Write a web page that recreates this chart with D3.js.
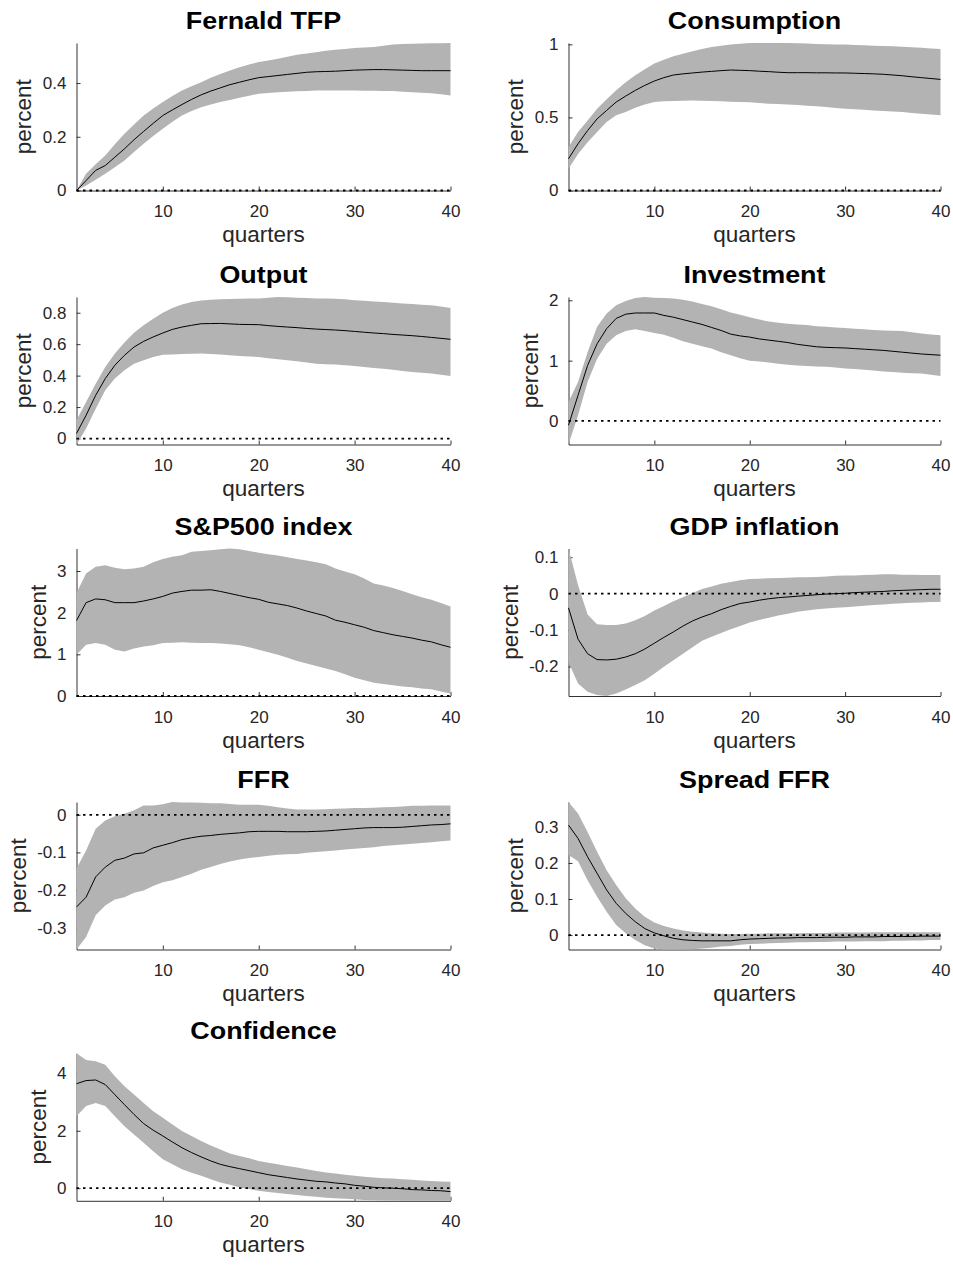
<!DOCTYPE html>
<html lang="en">
<head>
<meta charset="UTF-8">
<title>Impulse responses</title>
<script src="https://cdnjs.cloudflare.com/ajax/libs/d3/7.8.5/d3.min.js"></script>
<style>
  body { margin: 0; background: #fff; }
  svg { display: block; font-family: "Liberation Sans", Arial, sans-serif; }
  .axis path, .axis line { stroke: #333; stroke-width: 1; fill: none; }
  .axis text { fill: #262626; font-size: 17px; font-family: "Liberation Sans", Arial, sans-serif; }
  .title { font-size: 23px; font-weight: bold; fill: #000; }
  .label { font-size: 22.5px; fill: #262626; }
</style>
</head>
<body>
<div id="chart"></div>
<script>
// horizon 1..40 quarters
var quarters = [1,2,3,4,5,6,7,8,9,10,11,12,13,14,15,16,17,18,19,20,
                21,22,23,24,25,26,27,28,29,30,31,32,33,34,35,36,37,38,39,40];
var xTicks = [10, 20, 30, 40];

// Fernald TFP
var tfpMed = [0,.037,.075,.093,.124,.155,.189,.22,.25,.279,.30,.32,.339,.356,.37,.382,.394,.403,.412,.42,.424,.428,.432,.436,.44,.442,.443,.444,.446,.448,.449,.45,.45,.449,.448,.447,.446,.446,.446,.446];
var tfpUp  = [0,.062,.098,.13,.172,.211,.246,.279,.305,.329,.352,.372,.388,.403,.42,.434,.447,.459,.469,.478,.484,.49,.498,.505,.51,.515,.52,.524,.527,.53,.532,.534,.539,.543,.545,.546,.547,.548,.548,.549];
var tfpLo  = [0,.019,.04,.062,.087,.112,.143,.174,.203,.23,.256,.279,.296,.31,.32,.329,.337,.345,.353,.36,.363,.366,.368,.369,.37,.372,.372,.372,.372,.372,.371,.371,.37,.37,.368,.366,.364,.362,.358,.354];
var tfpTicks = [0, 0.2, 0.4];

// Consumption
var consMed = [.217,.32,.41,.49,.548,.605,.646,.685,.719,.749,.772,.79,.798,.804,.81,.815,.82,.824,.822,.82,.816,.813,.809,.806,.806,.806,.805,.805,.804,.804,.802,.8,.798,.795,.79,.785,.778,.772,.766,.76];
var consUp  = [.297,.4,.479,.559,.625,.685,.74,.788,.83,.868,.895,.918,.936,.952,.968,.982,.99,.998,1.004,1.009,1.009,1.009,1.009,1.009,1.007,1.005,1.003,1.001,.999,.998,.996,.994,.991,.989,.986,.983,.98,.977,.972,.968];
var consLo  = [.148,.25,.33,.4,.468,.514,.537,.566,.589,.605,.61,.612,.614,.616,.614,.612,.61,.607,.605,.603,.598,.594,.592,.589,.585,.58,.576,.571,.565,.559,.556,.553,.548,.543,.54,.537,.531,.525,.52,.514];
var consTicks = [0, 0.5, 1];

// Output
var outMed = [.032,.148,.275,.381,.466,.529,.582,.618,.646,.671,.694,.709,.72,.73,.731,.732,.729,.726,.725,.724,.718,.713,.709,.705,.7,.696,.693,.69,.686,.681,.676,.671,.667,.662,.658,.654,.649,.643,.637,.631];
var outUp  = [.116,.233,.349,.455,.54,.61,.673,.72,.762,.8,.83,.853,.868,.878,.882,.885,.887,.889,.89,.891,.896,.9,.898,.895,.893,.891,.89,.889,.885,.88,.876,.872,.868,.863,.859,.855,.851,.847,.84,.83];
var outLo  = [-.038,.063,.19,.307,.381,.434,.476,.497,.519,.533,.535,.538,.539,.54,.538,.535,.53,.525,.522,.519,.511,.504,.498,.491,.483,.476,.473,.47,.466,.461,.455,.449,.444,.438,.43,.423,.418,.413,.406,.398];
var outTicks = [0, 0.2, 0.4, 0.6, 0.8];

// Investment
var invMed = [-.07,.425,.92,1.28,1.53,1.70,1.77,1.79,1.79,1.79,1.75,1.72,1.68,1.64,1.6,1.55,1.5,1.44,1.41,1.39,1.36,1.34,1.32,1.30,1.27,1.25,1.23,1.22,1.215,1.21,1.2,1.19,1.18,1.17,1.155,1.14,1.125,1.11,1.1,1.09];
var invUp  = [.315,.646,1.14,1.56,1.78,1.92,1.99,2.04,2.055,2.044,2.04,2.03,2.01,1.98,1.94,1.9,1.85,1.8,1.76,1.72,1.68,1.65,1.63,1.61,1.6,1.59,1.57,1.56,1.55,1.54,1.53,1.52,1.51,1.5,1.495,1.49,1.47,1.45,1.435,1.42];
var invLo  = [-.39,.094,.646,1.03,1.28,1.42,1.49,1.52,1.49,1.46,1.43,1.38,1.32,1.28,1.24,1.2,1.14,1.09,1.04,1.0,.985,.97,.95,.93,.92,.91,.905,.9,.885,.87,.86,.85,.835,.82,.81,.8,.79,.785,.765,.746];
var invTicks = [0, 1, 2];

// S&P500 index
var spMed = [1.81,2.24,2.33,2.31,2.24,2.24,2.24,2.28,2.33,2.39,2.47,2.51,2.54,2.54,2.55,2.51,2.46,2.41,2.36,2.32,2.25,2.21,2.17,2.11,2.04,1.98,1.92,1.82,1.77,1.71,1.65,1.57,1.52,1.47,1.43,1.39,1.34,1.3,1.23,1.17];
var spUp  = [2.47,2.94,3.1,3.14,3.08,3.04,3.06,3.1,3.21,3.29,3.34,3.38,3.46,3.48,3.5,3.52,3.54,3.52,3.48,3.44,3.4,3.37,3.33,3.29,3.25,3.21,3.16,3.06,2.99,2.92,2.82,2.7,2.65,2.59,2.52,2.44,2.37,2.31,2.23,2.15];
var spLo  = [.99,1.23,1.27,1.23,1.11,1.07,1.14,1.19,1.22,1.27,1.28,1.29,1.28,1.27,1.27,1.26,1.24,1.22,1.17,1.11,1.05,.99,.92,.84,.78,.72,.66,.6,.52,.44,.38,.32,.29,.26,.23,.21,.18,.16,.11,.06];
var spTicks = [0, 1, 2, 3];

// GDP inflation
var gdpMed = [-.039,-.125,-.165,-.181,-.182,-.18,-.174,-.165,-.152,-.136,-.12,-.105,-.089,-.075,-.064,-.055,-.044,-.035,-.027,-.023,-.018,-.014,-.011,-.009,-.007,-.005,-.003,-.001,0,.001,.003,.004,.005,.006,.008,.009,.01,.011,.012,.012];
var gdpUp  = [.124,.024,-.057,-.084,-.086,-.086,-.082,-.073,-.061,-.046,-.034,-.021,-.01,.002,.013,.02,.027,.032,.037,.04,.041,.042,.043,.044,.045,.045,.046,.047,.049,.05,.05,.051,.052,.053,.053,.052,.052,.051,.051,.051];
var gdpLo  = [-.188,-.247,-.269,-.278,-.281,-.274,-.263,-.251,-.238,-.22,-.201,-.183,-.165,-.147,-.129,-.118,-.108,-.098,-.089,-.079,-.072,-.066,-.06,-.055,-.05,-.046,-.043,-.041,-.039,-.037,-.035,-.033,-.031,-.03,-.028,-.026,-.025,-.024,-.023,-.023];
var gdpTicks = [-0.2, -0.1, 0, 0.1];

// FFR
var ffrMed = [-.245,-.219,-.165,-.139,-.121,-.115,-.104,-.101,-.088,-.081,-.074,-.066,-.061,-.057,-.055,-.052,-.05,-.048,-.045,-.044,-.044,-.044,-.045,-.045,-.045,-.044,-.043,-.041,-.039,-.037,-.035,-.034,-.034,-.034,-.033,-.031,-.029,-.027,-.026,-.024];
var ffrUp  = [-.143,-.095,-.037,-.015,-.004,.003,.012,.025,.025,.028,.034,.033,.033,.032,.031,.031,.029,.027,.027,.027,.024,.02,.017,.014,.014,.014,.015,.016,.017,.018,.018,.019,.02,.021,.022,.024,.024,.025,.025,.025];
var ffrLo  = [-.358,-.325,-.267,-.241,-.225,-.219,-.207,-.201,-.189,-.179,-.174,-.165,-.157,-.146,-.139,-.131,-.124,-.119,-.115,-.112,-.109,-.106,-.105,-.104,-.101,-.099,-.097,-.095,-.092,-.09,-.088,-.086,-.083,-.081,-.079,-.077,-.075,-.073,-.07,-.068];
var ffrTicks = [-0.3, -0.2, -0.1, 0];

// Spread FFR
var sprMed = [.305,.268,.217,.171,.125,.088,.06,.037,.018,.006,-.002,-.009,-.013,-.015,-.016,-.016,-.016,-.016,-.013,-.011,-.01,-.009,-.008,-.008,-.007,-.007,-.007,-.006,-.006,-.006,-.005,-.005,-.005,-.004,-.004,-.004,-.004,-.003,-.003,-.003];
var sprUp  = [.369,.337,.286,.231,.18,.139,.102,.074,.051,.035,.025,.018,.013,.009,.007,.005,.004,.003,.003,.004,.004,.005,.005,.005,.005,.006,.006,.006,.007,.007,.007,.007,.008,.008,.008,.008,.008,.008,.008,.008];
var sprLo  = [.222,.205,.152,.106,.065,.028,.005,-.014,-.028,-.037,-.04,-.04,-.04,-.039,-.037,-.035,-.032,-.03,-.027,-.025,-.024,-.023,-.022,-.021,-.02,-.02,-.019,-.019,-.018,-.018,-.018,-.017,-.017,-.017,-.016,-.016,-.015,-.015,-.014,-.014];
var sprTicks = [0, 0.1, 0.2, 0.3];

// Confidence
var confMed = [3.64,3.75,3.77,3.61,3.26,2.91,2.57,2.25,2.02,1.82,1.61,1.41,1.24,1.09,.95,.83,.75,.68,.61,.54,.47,.42,.37,.32,.28,.24,.22,.18,.15,.1,.07,.03,.01,0,-.02,-.05,-.06,-.08,-.09,-.12];
var confUp  = [4.7,4.47,4.42,4.3,3.9,3.55,3.26,2.97,2.68,2.45,2.22,1.99,1.82,1.64,1.49,1.35,1.21,1.12,1.04,.95,.89,.83,.77,.72,.66,.6,.55,.51,.47,.43,.4,.37,.35,.34,.31,.29,.27,.25,.23,.22];
var confLo  = [2.51,2.86,2.97,2.86,2.51,2.16,1.87,1.58,1.29,1.01,.83,.66,.54,.43,.31,.2,.12,.02,-.03,-.09,-.13,-.17,-.2,-.24,-.27,-.3,-.33,-.35,-.37,-.39,-.41,-.42,-.43,-.43,-.44,-.44,-.44,-.44,-.44,-.44];
var confTicks = [0, 2, 4];

var panels = [
  { title: "Fernald TFP",   med: tfpMed,  up: tfpUp,  lo: tfpLo,  ticks: tfpTicks },
  { title: "Consumption",   med: consMed, up: consUp, lo: consLo, ticks: consTicks },
  { title: "Output",        med: outMed,  up: outUp,  lo: outLo,  ticks: outTicks },
  { title: "Investment",    med: invMed,  up: invUp,  lo: invLo,  ticks: invTicks },
  { title: "S&P500 index",  med: spMed,   up: spUp,   lo: spLo,   ticks: spTicks },
  { title: "GDP inflation", med: gdpMed,  up: gdpUp,  lo: gdpLo,  ticks: gdpTicks },
  { title: "FFR",           med: ffrMed,  up: ffrUp,  lo: ffrLo,  ticks: ffrTicks },
  { title: "Spread FFR",    med: sprMed,  up: sprUp,  lo: sprLo,  ticks: sprTicks },
  { title: "Confidence",    med: confMed, up: confUp, lo: confLo, ticks: confTicks }
];

var W = 953, H = 1266;
var colX = [76.5, 568.5], colW = [374, 372];
var rowY = [43, 297, 548.5, 802, 1053.3], plotH = 147.5;

var svg = d3.select("#chart").append("svg")
    .attr("width", W)
    .attr("height", H);

panels.forEach(function (p, i) {
  var col = i % 2, row = Math.floor(i / 2);
  var w = colW[col], h = plotH;
  var g = svg.append("g")
      .attr("transform", "translate(" + colX[col] + "," + rowY[row] + ")");

  var x = d3.scaleLinear().domain([1, 40]).range([0, w]);
  var y = d3.scaleLinear()
      .domain(d3.extent(p.lo.concat(p.up, [0])))
      .range([h, 0]);

  // axes first, the band is painted over them (matlab layer "bottom")
  g.append("g").attr("class", "axis")
      .attr("transform", "translate(0," + h + ")")
      .call(d3.axisBottom(x).tickValues(xTicks).tickSizeInner(-4).tickSizeOuter(0)
        .tickPadding(14.5).tickFormat(function (d) { return String(d); }));
  var ya = g.append("g").attr("class", "axis")
      .call(d3.axisLeft(y).tickValues(p.ticks).tickSizeInner(-4).tickSizeOuter(0)
        .tickPadding(10).tickFormat(function (d) { return String(d); }));

  // band
  g.append("path")
      .datum(quarters)
      .attr("fill", "#b3b3b3")
      .attr("stroke", "none")
      .attr("d", d3.area()
        .x(function (q) { return x(q); })
        .y0(function (q, k) { return y(p.lo[k]); })
        .y1(function (q, k) { return y(p.up[k]); }));

  // zero line
  g.append("path")
      .datum([1, 40])
      .attr("fill", "none")
      .attr("stroke", "#000")
      .attr("stroke-width", 1.8)
      .attr("stroke-dasharray", "2.5,4")
      .attr("d", d3.line().x(function (q) { return x(q); }).y(function () { return y(0); }));

  // median
  g.append("path")
      .datum(quarters)
      .attr("fill", "none")
      .attr("stroke", "#000")
      .attr("stroke-width", 1)
      .attr("d", d3.line()
        .x(function (q) { return x(q); })
        .y(function (q, k) { return y(p.med[k]); }));

  // labels
  var maxW = 0;
  ya.selectAll(".tick text").each(function () {
    maxW = Math.max(maxW, this.getBBox().width);
  });
  g.append("text")
      .attr("class", "label")
      .attr("transform", "translate(" + (-(maxW + 21.5)) + "," + (h / 2) + ") rotate(-90)")
      .attr("text-anchor", "middle")
      .text("percent");

  g.append("text")
      .attr("class", "label")
      .attr("x", w / 2)
      .attr("y", h + 51.5)
      .attr("text-anchor", "middle")
      .text("quarters");

  g.append("text")
      .attr("class", "title")
      .attr("transform", "translate(" + (w / 2) + ",-14) scale(1.17,1)")
      .attr("text-anchor", "middle")
      .text(p.title);
});
</script>
</body>
</html>
